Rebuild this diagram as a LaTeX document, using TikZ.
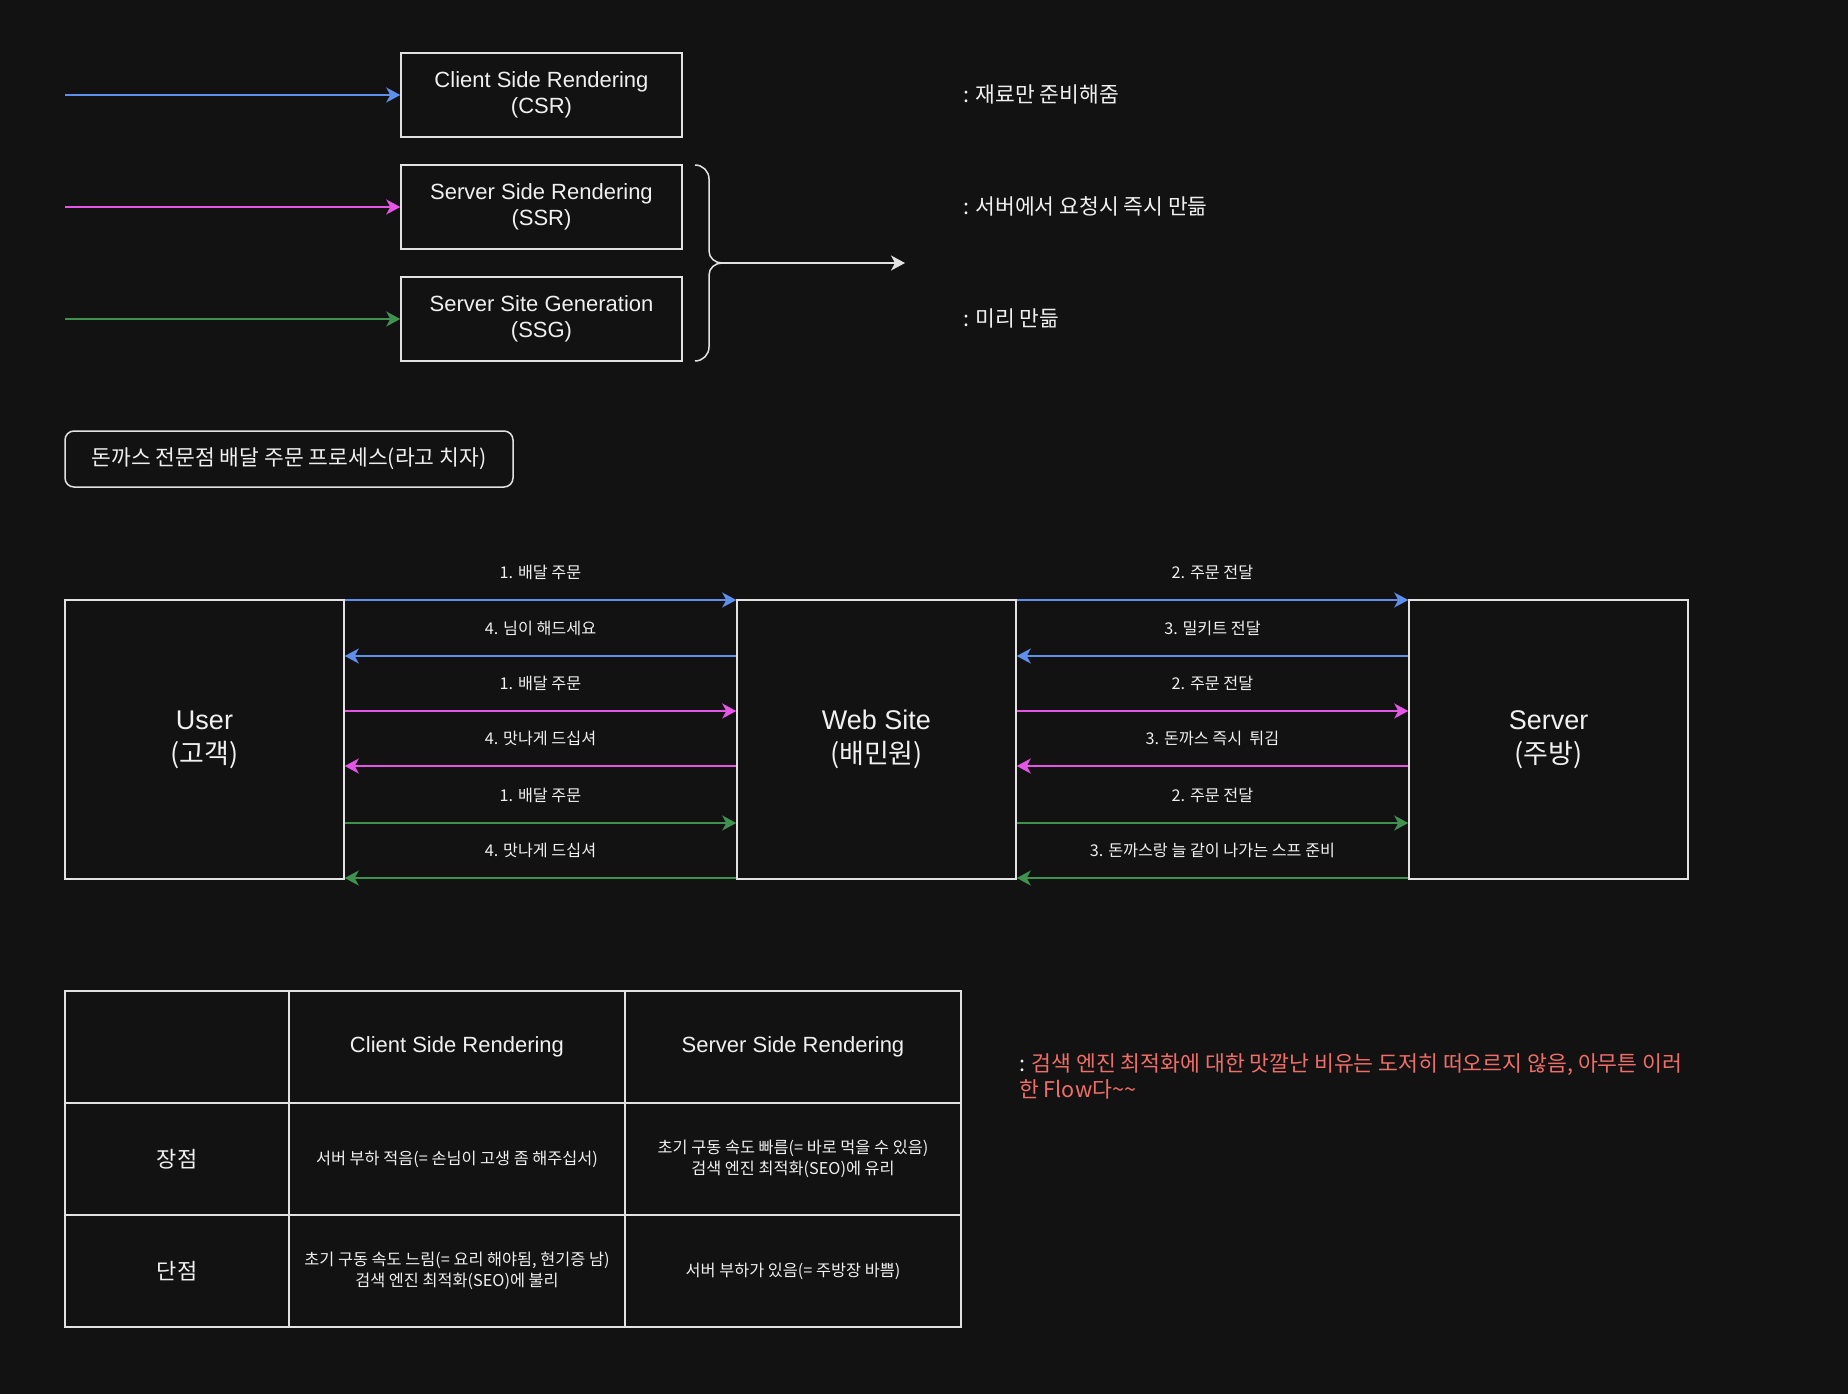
\documentclass[tikz,border=0pt]{standalone}
\usepackage{fontspec}
\setmainfont{Liberation Sans}
\newfontfamily\kr{Noto Sans CJK KR}
\usetikzlibrary{arrows.meta}
\definecolor{bg}{HTML}{121212}
\definecolor{fg}{HTML}{F0F0F0}
\definecolor{ln}{HTML}{E2E2E2}
\definecolor{cblue}{HTML}{5E8FEA}
\definecolor{cmag}{HTML}{E655E6}
\definecolor{cgreen}{HTML}{3F9150}
\definecolor{cred}{HTML}{F06E69}
\tikzset{
  box/.style={draw=ln, line width=1.5pt, text=fg, inner sep=0pt, align=center},
  topbox/.style={box, minimum width=281pt, minimum height=84pt, font=\fontsize{22}{26}\selectfont},
  bigbox/.style={box, minimum width=279pt, minimum height=279pt, font=\fontsize{27}{34}\selectfont},
  conn/.style={line width=1.5pt, -{Stealth[length=14pt,width=15pt,inset=4pt]}},
  arrblue/.style={conn, draw=cblue, fill=cblue},
  arrmag/.style={conn, draw=cmag, fill=cmag},
  arrgreen/.style={conn, draw=cgreen, fill=cgreen},
  arrwhite/.style={conn, draw=ln, fill=ln},
  lbl/.style={text=fg, font=\kr\fontsize{16.2}{19}\selectfont, yshift=28pt, inner sep=0pt},
  note/.style={text=fg, font=\kr\fontsize{21.5}{26}\selectfont, anchor=west, inner sep=0pt},
  cell/.style={box, minimum height=112pt},
  hcell/.style={cell, font=\fontsize{22}{26}\selectfont},
  kcell/.style={cell, font=\kr\fontsize{22}{26}\selectfont},
  bcell/.style={cell, font=\kr\fontsize{16.3}{20.5}\selectfont},
}
\begin{document}
\begin{tikzpicture}[x=1pt,y=-1pt]
\fill[bg] (0,0) rectangle (1848,1394);
\useasboundingbox (0,0) rectangle (1848,1394);

% top legend
\node[topbox] (csr) at (541.5,95) {Client Side Rendering\\(CSR)};
\node[topbox] (ssr) at (541.5,207) {Server Side Rendering\\(SSR)};
\node[topbox] (ssg) at (541.5,319) {Server Site Generation\\(SSG)};
\coordinate (a1) at (65,95);
\coordinate (a2) at (65,207);
\coordinate (a3) at (65,319);
\draw[arrblue] (a1) -- (csr.west);
\draw[arrmag] (a2) -- (ssr.west);
\draw[arrgreen] (a3) -- (ssg.west);

\draw[ln, line width=1.5pt] (695,165) to[out=0,in=90] (709,179) -- (709,251)
  to[out=-90,in=180] (722,263) to[out=180,in=90] (709,275) -- (709,347)
  to[out=-90,in=0] (695,361);
\coordinate (brace) at (722,263);
\coordinate (bend) at (905,263);
\draw[arrwhite] (brace) -- (bend);

\node[note] (n1) at (963,94) {: 재료만 준비해줌};
\node[note] (n2) at (963,206) {: 서버에서 요청시 즉시 만듦};
\node[note] (n3) at (963,318) {: 미리 만듦};

% title
\node[box, rounded corners=9pt, minimum width=448pt, minimum height=56pt,
  font=\kr\fontsize{21.5}{26}\selectfont] (title) at (289,459) {돈까스 전문점 배달 주문 프로세스(라고 치자)};

% actors
\node[bigbox] (user) at (204.5,739.5) {User\\{\kr (고객)}};
\node[bigbox] (web) at (876.5,739.5) {Web Site\\{\kr (배민원)}};
\node[bigbox] (server) at (1548.5,739.5) {Server\\{\kr (주방)}};

\coordinate (r1) at (0,600);
\coordinate (r2) at (0,656);
\coordinate (r3) at (0,711);
\coordinate (r4) at (0,766);
\coordinate (r5) at (0,823);
\coordinate (r6) at (0,878);

\draw[arrblue] (user.east |- r1) -- node[lbl] {1. 배달 주문} (web.west |- r1);
\draw[arrblue] (web.west |- r2) -- node[lbl] {4. 님이 해드세요} (user.east |- r2);
\draw[arrmag] (user.east |- r3) -- node[lbl] {1. 배달 주문} (web.west |- r3);
\draw[arrmag] (web.west |- r4) -- node[lbl] {4. 맛나게 드십셔} (user.east |- r4);
\draw[arrgreen] (user.east |- r5) -- node[lbl] {1. 배달 주문} (web.west |- r5);
\draw[arrgreen] (web.west |- r6) -- node[lbl] {4. 맛나게 드십셔} (user.east |- r6);

\draw[arrblue] (web.east |- r1) -- node[lbl] {2. 주문 전달} (server.west |- r1);
\draw[arrblue] (server.west |- r2) -- node[lbl] {3. 밀키트 전달} (web.east |- r2);
\draw[arrmag] (web.east |- r3) -- node[lbl] {2. 주문 전달} (server.west |- r3);
\draw[arrmag] (server.west |- r4) -- node[lbl] {3. 돈까스 즉시\ \ 튀김} (web.east |- r4);
\draw[arrgreen] (web.east |- r5) -- node[lbl] {2. 주문 전달} (server.west |- r5);
\draw[arrgreen] (server.west |- r6) -- node[lbl] {3. 돈까스랑 늘 같이 나가는 스프 준비} (web.east |- r6);

% table
\node[hcell, minimum width=224pt] (t11) at (177,1047) {};
\node[hcell, minimum width=336pt] (t12) at (457,1047) {Client Side Rendering};
\node[hcell, minimum width=336pt] (t13) at (793,1047) {Server Side Rendering};
\node[kcell, minimum width=224pt] (t21) at (177,1159) {장점};
\node[bcell, minimum width=336pt] (t22) at (457,1159) {서버 부하 적음(= 손님이 고생 좀 해주십서)};
\node[bcell, minimum width=336pt] (t23) at (793,1159) {초기 구동 속도 빠름(= 바로 먹을 수 있음)\\검색 엔진 최적화(SEO)에 유리};
\node[kcell, minimum width=224pt] (t31) at (177,1271) {단점};
\node[bcell, minimum width=336pt] (t32) at (457,1271) {초기 구동 속도 느림(= 요리 해야됨, 현기증 남)\\검색 엔진 최적화(SEO)에 불리};
\node[bcell, minimum width=336pt] (t33) at (793,1271) {서버 부하가 있음(= 주방장 바쁨)};

% red note
\node[note, align=left, text=cred, font=\kr\fontsize{21.6}{26}\selectfont] (red) at (1019,1076)
  {{\color{fg}:} 검색 엔진 최적화에 대한 맛깔난 비유는 도저히 떠오르지 않음, 아무튼 이러\\한 Flow다\textasciitilde\textasciitilde};
\end{tikzpicture}
\end{document}
